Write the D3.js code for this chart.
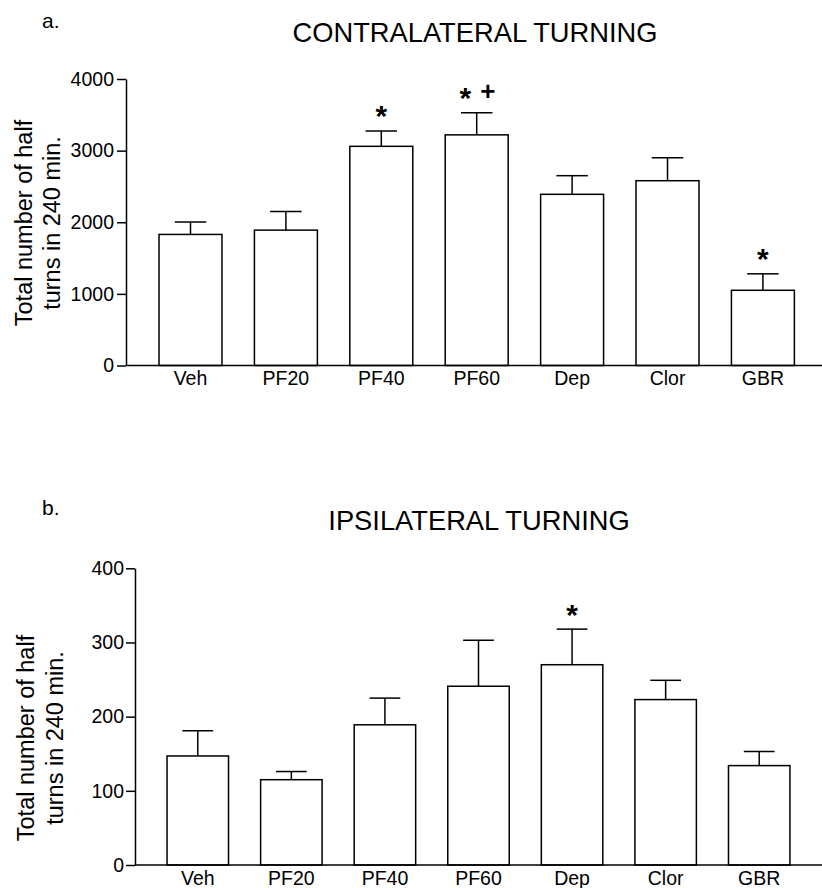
<!DOCTYPE html>
<html>
<head>
<meta charset="utf-8">
<script src="https://cdn.jsdelivr.net/npm/d3@7"></script>
<style>
  html, body { margin: 0; padding: 0; background: #fff; }
  svg { display: block; }
  text { font-family: "Liberation Sans", Arial, Helvetica, sans-serif; fill: #000; }
</style>
</head>
<body>
<svg id="chart" width="822" height="888"></svg>
<script>
// ---- data ----
const categories = ["Veh", "PF20", "PF40", "PF60", "Dep", "Clor", "GBR"];

const contraMeans  = [1830, 1890, 3060, 3220, 2390, 2580, 1050];
const contraErrors = [175, 260, 215, 310, 260, 320, 230];
const contraMarks  = ["", "", "*", "* +", "", "", "*"];
const contraTicks  = [0, 1000, 2000, 3000, 4000];

const ipsiMeans  = [147, 115, 189, 241, 270, 223, 134];
const ipsiErrors = [34, 11, 36, 62, 48, 26, 19];
const ipsiMarks  = ["", "", "", "", "*", "", ""];
const ipsiTicks  = [0, 100, 200, 300, 400];

const yLabelLines = ["Total number of half", "turns in 240 min."];

// ---- layout ----
const panels = [
  {
    letter: "a.", title: "CONTRALATERAL TURNING",
    means: contraMeans, errors: contraErrors, marks: contraMarks, ticks: contraTicks,
    axisX: 126, axisRight: 822, yTop: 79, yBottom: 365.5,
    bandStart: 142.8, bandEnd: 810.6, padInner: 0.34,
    letterX: 42, letterY: 28, titleX: 475, titleY: 42,
    labelY: 223, labelX: [32, 60], tickLen: 9, tickPad: 3, xLabPad: 6
  },
  {
    letter: "b.", title: "IPSILATERAL TURNING",
    means: ipsiMeans, errors: ipsiErrors, marks: ipsiMarks, ticks: ipsiTicks,
    axisX: 135, axisRight: 822, yTop: 568.3, yBottom: 865,
    bandStart: 151, bandEnd: 806, padInner: 0.343,
    letterX: 42, letterY: 515, titleX: 479, titleY: 530,
    labelY: 738, labelX: [34, 63], tickLen: 9, tickPad: 2, xLabPad: 6.5
  }
];

const svg = d3.select("#chart");
const stroke = 1.5;

panels.forEach(p => {
  const g = svg.append("g");
  const maxTick = d3.max(p.ticks);

  const x = d3.scaleBand()
    .domain(categories)
    .range([p.bandStart, p.bandEnd])
    .paddingInner(p.padInner)
    .paddingOuter(p.padInner / 2);

  const y = d3.scaleLinear()
    .domain([0, maxTick])
    .range([p.yBottom, p.yTop]);

  // letter and title
  g.append("text")
    .attr("x", p.letterX).attr("y", p.letterY)
    .attr("font-size", 21)
    .text(p.letter);

  g.append("text")
    .attr("x", p.titleX).attr("y", p.titleY)
    .attr("text-anchor", "middle")
    .attr("font-size", 27.3)
    .text(p.title);

  // y axis label (two lines, rotated)
  yLabelLines.forEach((line, i) => {
    g.append("text")
      .attr("transform", `translate(${p.labelX[i]},${p.labelY}) rotate(-90)`)
      .attr("text-anchor", "middle")
      .attr("font-size", 23.5)
      .text(line);
  });

  // bars
  g.selectAll("rect.bar")
    .data(p.means)
    .join("rect")
    .attr("class", "bar")
    .attr("x", (d, i) => x(categories[i]))
    .attr("width", x.bandwidth())
    .attr("y", d => y(d))
    .attr("height", d => y(0) - y(d))
    .attr("fill", "#fff")
    .attr("stroke", "#000")
    .attr("stroke-width", stroke);

  // error bars
  const capHalf = x.bandwidth() / 4;
  const eb = g.selectAll("g.err")
    .data(p.means.map((m, i) => ({ m, e: p.errors[i], c: categories[i] })))
    .join("g").attr("class", "err");
  eb.append("line")
    .attr("x1", d => x(d.c) + x.bandwidth() / 2)
    .attr("x2", d => x(d.c) + x.bandwidth() / 2)
    .attr("y1", d => y(d.m))
    .attr("y2", d => y(d.m + d.e))
    .attr("stroke", "#000").attr("stroke-width", stroke);
  eb.append("line")
    .attr("x1", d => x(d.c) + x.bandwidth() / 2 - capHalf)
    .attr("x2", d => x(d.c) + x.bandwidth() / 2 + capHalf)
    .attr("y1", d => y(d.m + d.e))
    .attr("y2", d => y(d.m + d.e))
    .attr("stroke", "#000").attr("stroke-width", stroke);

  // significance marks
  p.marks.forEach((mk, i) => {
    if (!mk) return;
    const syms = mk.split(" ");
    const cx = x(categories[i]) + x.bandwidth() / 2;
    const cy = y(p.means[i] + p.errors[i]) - 22;
    syms.forEach((s, j) => {
      const off = (j - (syms.length - 1) / 2) * 22.5;
      const isStar = s === "*";
      const fs = isStar ? 30 : 26;
      g.append("text")
        .attr("x", cx + off)
        .attr("y", cy + (isStar ? 0.58 : 0.36) * fs)
        .attr("text-anchor", "middle")
        .attr("font-size", fs)
        .attr("font-weight", "bold")
        .text(s);
    });
  });

  // y axis
  const yAxis = g.append("g")
    .attr("transform", `translate(${p.axisX},0)`)
    .call(d3.axisLeft(y).tickValues(p.ticks).tickFormat(d3.format("d"))
      .tickSize(p.tickLen).tickSizeOuter(0).tickPadding(p.tickPad));
  yAxis.selectAll("path, line").attr("stroke", "#000").attr("stroke-width", stroke);
  yAxis.selectAll("text").attr("font-size", 19.5).attr("font-family", '"Liberation Sans", Arial, sans-serif').attr("fill", "#000");

  // x axis
  const xAxis = g.append("g")
    .attr("transform", `translate(0,${p.yBottom})`)
    .call(d3.axisBottom(x).tickSize(0).tickPadding(p.xLabPad));
  xAxis.select("path.domain").remove();
  xAxis.append("line")
    .attr("x1", p.axisX).attr("x2", p.axisRight)
    .attr("y1", 0).attr("y2", 0)
    .attr("stroke", "#000").attr("stroke-width", stroke);
  xAxis.selectAll("text").attr("font-size", 19.5).attr("font-family", '"Liberation Sans", Arial, sans-serif').attr("fill", "#000");
});
</script>
</body>
</html>
